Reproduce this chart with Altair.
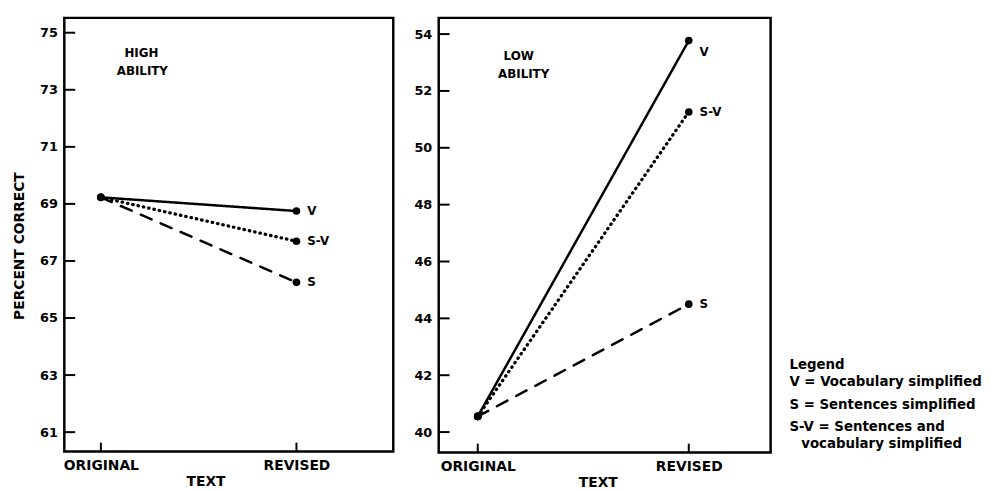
import altair as alt
import pandas as pd

conditions = ["ORIGINAL", "REVISED"]
series = ["V", "S-V", "S"]

high_V = [69.23, 68.75]
high_SV = [69.23, 67.69]
high_S = [69.23, 66.25]

low_V = [40.55, 53.77]
low_SV = [40.55, 51.26]
low_S = [40.55, 44.50]

high_ticks = [61, 63, 65, 67, 69, 71, 73, 75]
low_ticks = [40, 42, 44, 46, 48, 50, 52, 54]

legend_lines = ["Legend", "V = Vocabulary simplified", "S = Sentences simplified",
                "S-V = Sentences and", "vocabulary simplified"]

FONT = "DejaVu Sans"


def make_df(v, sv, s):
    rows = []
    for name, vals in zip(series, [v, sv, s]):
        for i, c in enumerate(conditions):
            rows.append({"series": name, "condition": c, "pos": i, "value": vals[i]})
    return pd.DataFrame(rows)


label_expr = "[" + ",".join("'" + c + "'" for c in conditions) + "][datum.value]"


def panel(df, ydom, xdom, yticks, w, h, ann, ytitle, title_x, v_dy):
    xs = alt.Scale(domain=xdom, nice=False, zero=False)
    ys = alt.Scale(domain=ydom, nice=False, zero=False)
    yaxis_kw = dict(values=yticks, ticks=False, domain=False, grid=False,
                    labelPadding=7, format="d", labelFontSize=13)
    if ytitle:
        yaxis_kw.update(title=ytitle, titlePadding=13, titleY=h / 2 + 11)
    else:
        yaxis_kw.update(title=None)
    X = alt.X("pos:Q", scale=xs,
              axis=alt.Axis(values=[0, 1], labelExpr=label_expr, title="TEXT",
                            ticks=False, domain=False, grid=False,
                            labelPadding=7, titlePadding=2, titleX=title_x))
    Y = alt.Y("value:Q", scale=ys, axis=alt.Axis(**yaxis_kw))
    base = alt.Chart(df).encode(x=X, y=Y)
    lines = base.mark_line(color="black", strokeCap="round").encode(
        strokeDash=alt.StrokeDash("series:N",
                                  scale=alt.Scale(domain=series,
                                                  range=[[1, 0], [0.5, 5], [12, 10]]),
                                  legend=None),
        strokeWidth=alt.StrokeWidth("series:N",
                                    scale=alt.Scale(type="ordinal", domain=series,
                                                    range=[2.5, 3.3, 2.5]),
                                    legend=None),
        detail="series:N",
    )
    pts = base.mark_circle(size=60, color="black", opacity=1)
    labels_other = base.transform_filter(
        (alt.datum.pos == 1) & (alt.datum.series != "V")
    ).mark_text(align="left", dx=11, font=FONT, fontWeight="bold", fontSize=12,
                color="black").encode(text="series:N")
    labels_v = base.transform_filter(
        (alt.datum.pos == 1) & (alt.datum.series == "V")
    ).mark_text(align="left", dx=11, dy=v_dy, font=FONT, fontWeight="bold", fontSize=12,
                color="black").encode(text="series:N")
    yt = alt.Chart(pd.DataFrame({"value": yticks})).mark_rule(
        strokeWidth=2, color="black").encode(
        y=Y, x=alt.value(0), x2=alt.value(11))
    xt = alt.Chart(pd.DataFrame({"pos": [0, 1]})).mark_rule(
        strokeWidth=2, color="black").encode(
        x=X, y=alt.value(h), y2=alt.value(h - 9))
    anns = []
    for txt, ax, ay in ann:
        anns.append(alt.Chart(pd.DataFrame({"a": [0]})).mark_text(
            text=txt, font=FONT, fontWeight="bold", fontSize=12, color="black",
            align="center").encode(x=alt.value(ax), y=alt.value(ay)))
    return alt.layer(lines, pts, labels_other, labels_v, yt, xt, *anns).properties(
        width=w, height=h)


left = panel(make_df(high_V, high_SV, high_S), [60.32, 75.52], [-0.187, 1.495],
             high_ticks, 333, 439,
             [("HIGH", 78, 36), ("ABILITY", 79, 54)], "PERCENT CORRECT", 143, 0)
right = panel(make_df(low_V, low_SV, low_S), [39.28, 54.57], [-0.185, 1.388],
              low_ticks, 336, 440,
              [("LOW", 81, 39), ("ABILITY", 86, 57)], None, 161, 12)

leg_layers = []
leg_pos = [(0, 351), (0, 369), (0, 392), (0, 414), (12, 431)]
for txt, (lx, ly) in zip(legend_lines, leg_pos):
    leg_layers.append(alt.Chart(pd.DataFrame({"a": [0]})).mark_text(
        text=txt, font=FONT, fontWeight="bold", fontSize=13.5, color="black",
        align="left").encode(x=alt.value(lx), y=alt.value(ly)))
legend = alt.layer(*leg_layers).properties(
    width=190, height=440, view=alt.ViewBackground(strokeOpacity=0))

chart = alt.hconcat(left, right, legend, spacing=17).configure(
    padding={"left": 3, "top": 5, "right": 2, "bottom": 2}
).configure_view(stroke="black", strokeWidth=2.5).configure_axis(
    labelFont=FONT, labelFontSize=14, labelFontWeight="bold", labelColor="black",
    titleFont=FONT, titleFontSize=14, titleFontWeight="bold", titleColor="black",
)

chart.save("out.html", embed_options={"renderer": "svg", "actions": False})
